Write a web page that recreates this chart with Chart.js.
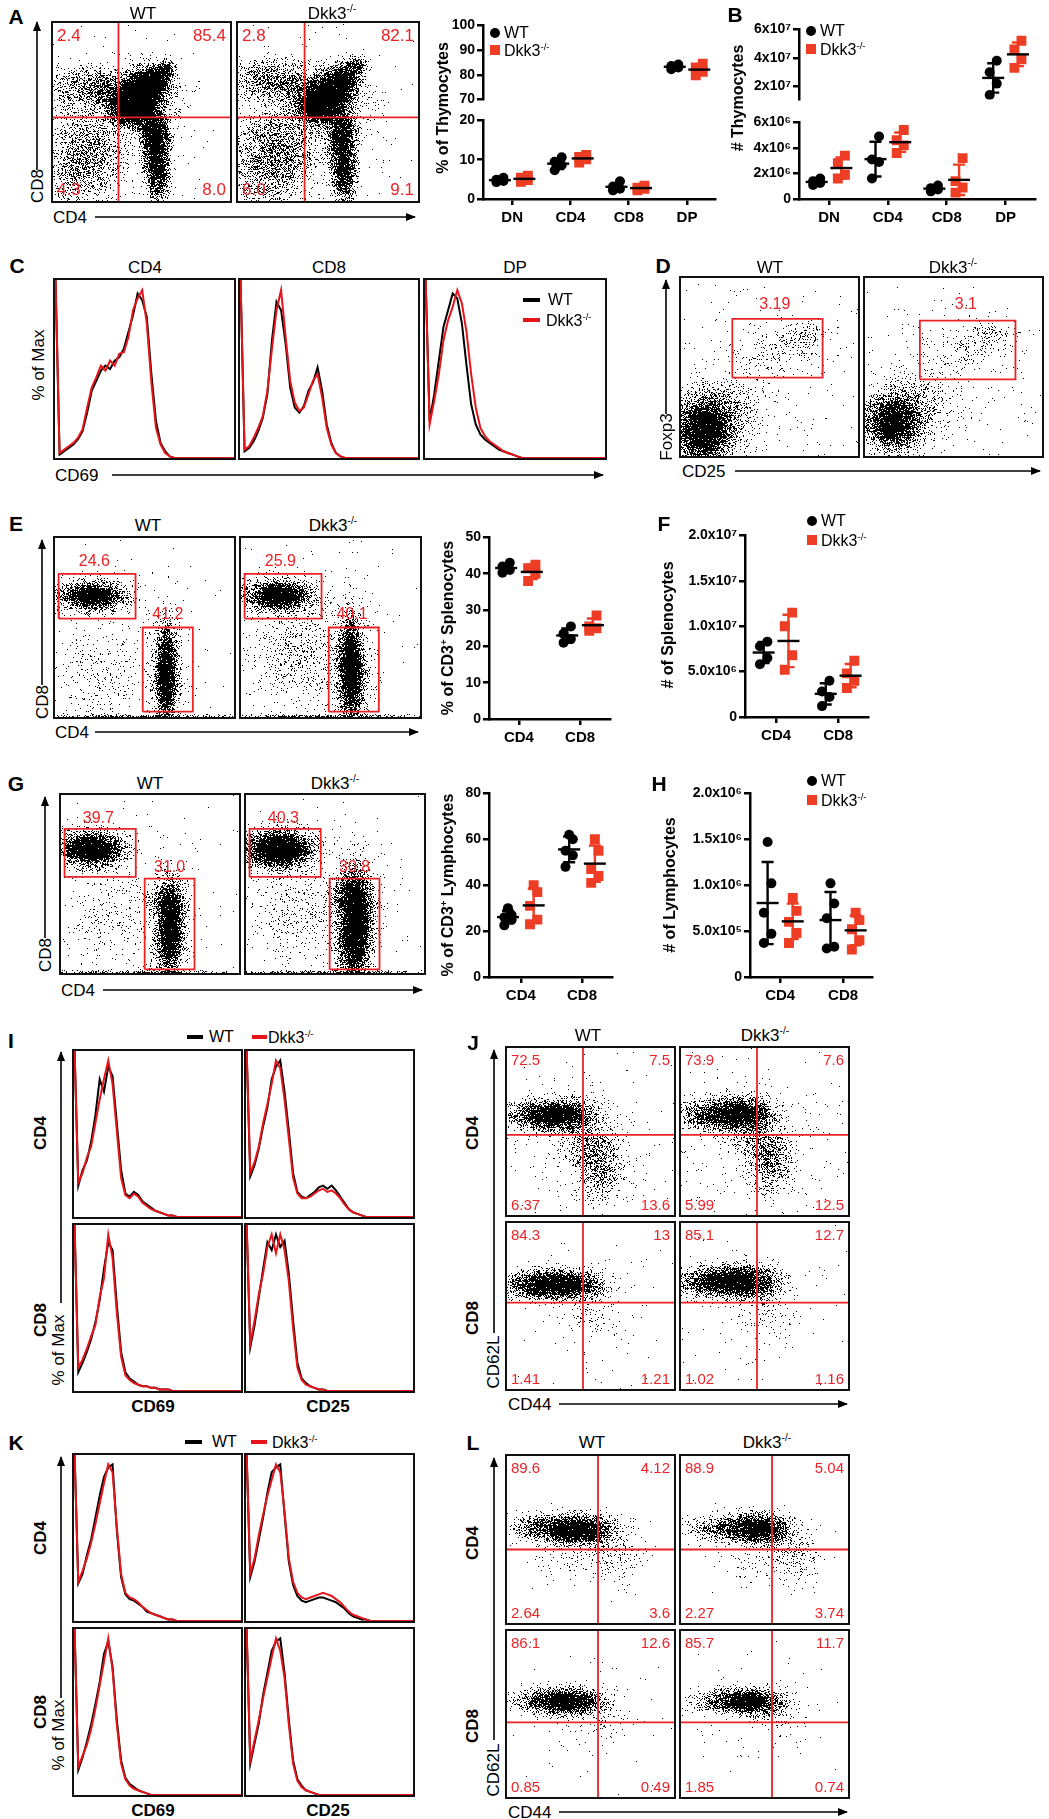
<!DOCTYPE html>
<html>
<head>
<meta charset="utf-8">
<title>Dkk3 thymocyte / T cell figure</title>
<script src="https://cdn.jsdelivr.net/npm/chart.js@4.4.1/dist/chart.umd.min.js"></script>
<style>
  body { margin: 0; background: #fff; }
  #fig { position: relative; width: 1049px; height: 1819px; overflow: hidden; font-family: "Liberation Sans", Arial, sans-serif; }
  #fig canvas { position: absolute; }
  .t { position: absolute; white-space: nowrap; color: #000; font-size: 17px; line-height: 1; }
  .L { font-weight: bold; font-size: 21px; }
  .b { font-weight: bold; }
  .y { font-weight: bold; font-size: 16px; }
  .s { font-size: 16px; }
  .mk { position: absolute; }
  sup { font-size: 60%; vertical-align: 0.6em; line-height: 0; }
  svg { position: absolute; left: 0; top: 0; }
</style>
</head>
<body>
<div id="fig"></div>
<script>
// ---------- data ----------
// A / B: thymocyte subsets, one value per mouse
const thyCats = ['DN', 'CD4', 'CD8', 'DP'];
const thyPctWt = [[4.3, 4.6, 4.9, 5.4], [7.3, 8.6, 9.5, 10.6], [2.2, 2.6, 3.1, 4.5], [82.3, 83.0, 83.6, 84.2]];
const thyPctKo = [[4.4, 4.8, 5.4, 5.9], [9.3, 10.1, 10.7, 11.2], [2.2, 2.6, 2.9, 3.4], [79.8, 81.2, 83.0, 84.5]];
const thyNumWt = [[1.1e6, 1.25e6, 1.4e6, 1.6e6], [1.6e6, 2.9e6, 3.1e6, 4.9e6], [0.6e6, 0.75e6, 0.85e6, 1.05e6], [1.4e7, 2.2e7, 3.0e7, 3.8e7]];
const thyNumKo = [[1.6e6, 1.9e6, 2.8e6, 3.4e6], [3.6e6, 4.2e6, 4.6e6, 5.4e6], [0.5e6, 0.9e6, 1.4e6, 3.2e6], [3.3e7, 3.9e7, 4.6e7, 5.2e7]];

// E-H: spleen and lymph node
const tCats = ['CD4', 'CD8'];
const splPctWt = [[40.3, 41.0, 42.0, 43.0], [21.0, 22.0, 23.5, 25.5]];
const splPctKo = [[38.0, 40.0, 41.5, 42.5], [24.3, 25.0, 25.5, 28.5]];
const splNumWt = [[5.8e6, 6.5e6, 7.8e6, 8.3e6], [1.2e6, 2.2e6, 2.8e6, 4.0e6]];
const splNumKo = [[5.2e6, 6.8e6, 10.0e6, 11.5e6], [3.2e6, 4.0e6, 4.8e6, 6.2e6]];
const lnPctWt = [[22.5, 25.0, 26.0, 27.0, 30.0], [48.0, 53.0, 55.0, 60.0, 62.0]];
const lnPctKo = [[23.0, 25.0, 31.0, 37.0, 40.0], [41.0, 44.0, 47.0, 55.0, 60.0]];
const lnNumWt = [[0.37e6, 0.47e6, 0.70e6, 1.02e6, 1.47e6], [0.31e6, 0.33e6, 0.64e6, 0.80e6, 1.02e6]];
const lnNumKo = [[0.37e6, 0.48e6, 0.60e6, 0.72e6, 0.86e6], [0.30e6, 0.40e6, 0.52e6, 0.62e6, 0.70e6]];

// tick labels
const thyPctTopTicks = [70, 80, 90, 100];
const thyPctLowTicks = [0, 10, 20];
const thyNumTopTicks = [2e7, 4e7, 6e7];
const thyNumTopLabels = ['2x10\u2077', '4x10\u2077', '6x10\u2077'];
const thyNumLowTicks = [0, 2e6, 4e6, 6e6];
const thyNumLowLabels = ['0', '2x10\u2076', '4x10\u2076', '6x10\u2076'];
const splPctTicks = [0, 10, 20, 30, 40, 50];
const splNumTicks = [0, 5e6, 1e7, 1.5e7, 2e7];
const splNumLabels = ['0', '5.0x10\u2076', '1.0x10\u2077', '1.5x10\u2077', '2.0x10\u2077'];
const lnPctTicks = [0, 20, 40, 60, 80];
const lnNumTicks = [0, 5e5, 1e6, 1.5e6, 2e6];
const lnNumLabels = ['0', '5.0x10\u2075', '1.0x10\u2076', '1.5x10\u2076', '2.0x10\u2076'];

// histograms (% of max per bin, 40 bins; bin 0 is the off-scale pile-up at the axis)
const BINS = Array.from({ length: 40 }, (_, i) => i);
const cCd4Wt = [120,2,4,6,8,11,16,27,40,46,52,55,53,58,60,65,75,85,98,94,84,50,22,9,4,1,0,0,0,0,0,0,0,0,0,0,0,0,0,0];
const cCd4Ko = [120,3,5,7,9,12,17,30,42,48,55,52,58,55,62,63,72,88,95,100,80,45,18,8,3,1,0,0,0,0,0,0,0,0,0,0,0,0,0,0];
const cCd8Wt = [120,4,6,10,16,24,38,70,93,88,68,42,30,27,31,40,45,54,40,20,9,3,1,0,0,0,0,0,0,0,0,0,0,0,0,0,0,0,0,0];
const cCd8Ko = [120,5,7,12,18,25,40,65,88,100,72,46,33,28,30,38,46,50,36,18,8,3,1,0,0,0,0,0,0,0,0,0,0,0,0,0,0,0,0,0];
const cDpWt  = [120,22,38,58,78,88,98,95,80,55,32,20,14,11,9,7,5,4,3,2,1,0,0,0,0,0,0,0,0,0,0,0,0,0,0,0,0,0,0,0];
const cDpKo  = [120,20,34,50,70,82,90,100,92,75,50,30,18,13,10,8,6,4,3,2,1,0,0,0,0,0,0,0,0,0,0,0,0,0,0,0,0,0,0,0];
const iCd4Cd69Wt = [120,20,30,36,48,65,88,80,96,90,60,30,15,13,16,14,10,8,6,4,3,2,1,1,0,0,0,0,0,0,0,0,0,0,0,0,0,0,0,0];
const iCd4Cd69Ko = [120,22,28,38,45,60,75,88,100,85,55,25,14,12,15,13,9,7,5,4,3,2,1,1,0,0,0,0,0,0,0,0,0,0,0,0,0,0,0,0];
const iCd4Cd25Wt = [120,26,33,44,58,70,88,96,100,80,55,28,16,13,12,14,16,19,20,18,20,17,13,9,5,3,2,1,0,0,0,0,0,0,0,0,0,0,0,0];
const iCd4Cd25Ko = [120,28,35,45,60,72,85,100,95,75,50,25,15,12,12,13,15,17,18,16,17,15,12,8,5,3,2,1,0,0,0,0,0,0,0,0,0,0,0,0];
const iCd8Cd69Wt = [120,12,18,25,33,44,58,78,95,90,55,25,12,8,6,4,3,3,2,2,1,1,1,0,0,0,0,0,0,0,0,0,0,0,0,0,0,0,0,0];
const iCd8Cd69Ko = [120,15,20,27,35,42,60,72,100,85,50,22,10,7,5,4,3,3,2,2,1,1,1,0,0,0,0,0,0,0,0,0,0,0,0,0,0,0,0,0];
const iCd8Cd25Wt = [120,28,42,60,78,95,90,100,92,96,75,45,18,8,5,3,2,1,1,0,0,0,0,0,0,0,0,0,0,0,0,0,0,0,0,0,0,0,0,0];
const iCd8Cd25Ko = [120,30,45,62,75,92,100,88,100,90,70,40,15,7,4,3,2,1,1,0,0,0,0,0,0,0,0,0,0,0,0,0,0,0,0,0,0,0,0,0];
const kCd4Cd69Wt = [120,24,30,42,52,66,80,92,98,100,58,28,17,14,13,11,9,6,5,4,3,2,1,1,0,0,0,0,0,0,0,0,0,0,0,0,0,0,0,0];
const kCd4Cd69Ko = [120,25,32,40,50,62,75,88,100,95,60,30,18,15,14,12,9,7,5,4,3,2,1,1,0,0,0,0,0,0,0,0,0,0,0,0,0,0,0,0];
const kCd4Cd25Wt = [120,28,38,52,66,82,95,98,100,68,38,23,16,13,12,13,14,15,15,14,13,12,10,8,5,3,2,1,1,0,0,0,0,0,0,0,0,0,0,0];
const kCd4Cd25Ko = [120,30,40,55,68,80,90,100,95,70,40,25,18,15,14,15,16,17,18,17,16,14,12,9,6,4,3,2,1,0,0,0,0,0,0,0,0,0,0,0];
const kCd8Cd69Wt = [120,16,24,34,45,58,72,90,98,82,48,22,11,7,5,3,2,1,0,0,0,0,0,0,0,0,0,0,0,0,0,0,0,0,0,0,0,0,0,0];
const kCd8Cd69Ko = [120,18,25,32,42,55,70,85,100,80,45,20,10,6,4,3,2,1,0,0,0,0,0,0,0,0,0,0,0,0,0,0,0,0,0,0,0,0,0,0];
const kCd8Cd25Wt = [120,20,33,46,64,78,92,98,100,78,48,22,10,6,3,2,1,0,0,0,0,0,0,0,0,0,0,0,0,0,0,0,0,0,0,0,0,0,0,0];
const kCd8Cd25Ko = [120,22,35,48,62,75,88,100,92,75,45,20,9,5,3,2,1,0,0,0,0,0,0,0,0,0,0,0,0,0,0,0,0,0,0,0,0,0,0,0];

// flow plots: population spots [centre x, centre y, spread x, spread y, peak density, tilt deg] on 0-100 axes
const aWtSpots = [[35,40,30,30,0.015], [22,28,10,14,0.45], [12,20,8,14,0.3], [18,64,10,6,0.6], [28,62,6,5,0.5],
  [58,32,3.5,10,3.5], [59,15,3,7,2.2], [56,40,4,5,1.8], [50,58,12,10,0.3],
  [44,56,6,6,7], [52,62,5,5,6], [58,68,4,4,4.5], [64,74,2.5,2.5,2], [46,50,6,3,4]];
const aKoSpots = [[35,40,30,30,0.02], [24,28,10,13,0.65], [12,20,8,14,0.35], [17,68,10,6,0.7], [28,65,6,5,0.55],
  [58,30,3.5,10,3], [59,14,3,7,2], [56,40,4,5,1.5], [50,58,12,10,0.3],
  [45,56,6,6,5], [53,62,5,5,4.5], [59,69,4,4,3.5], [66,76,2.5,2.5,1.6], [46,50,6,3,3]];
const dWtSpots = [[40,40,35,35,0.012], [12,15,7,8,4.5], [20,20,10,10,0.6], [30,30,12,10,0.08], [55,58,14,7,0.1], [68,67,7,4,0.25]];
const dKoSpots = [[40,40,35,35,0.012], [15,19,7,7,3.5], [23,23,10,9,0.5], [32,32,12,10,0.08], [58,60,14,7,0.08], [70,68,7,4,0.18]];
const eWtSpots = [[40,45,30,30,0.01], [20,68,7,3,5], [14,68,10,5,0.5], [30,67,8,5,0.3], [62,25,2.5,12,5], [62,22,5,16,0.4],
  [25,25,12,15,0.08], [45,0.5,30,0.6,0.8]];
const eKoSpots = [[40,45,30,30,0.012], [22,68,7,3.5,5], [14,68,10,5,0.6], [32,67,8,5,0.35], [61,27,3,13,5], [61,24,6,16,0.45],
  [32,35,14,15,0.15], [45,0.5,30,0.6,0.8]];
const gWtSpots = [[40,45,30,30,0.01], [17,70,7,4,5.5], [12,70,10,6,0.5], [26,70,8,5,0.3], [61,25,3,12,5], [60,40,5,5,1.4], [60,22,6,16,0.35],
  [28,30,12,15,0.08], [45,0.5,30,0.6,0.8]];
const gKoSpots = [[40,45,30,30,0.01], [18,70,8,4.5,5.5], [12,70,10,6,0.6], [29,70,8,5,0.35], [61,28,4,14,5], [60,42,6,6,1.4], [61,25,7,17,0.35],
  [30,35,14,15,0.1], [45,0.5,30,0.6,0.8]];
const jCd4WtSpots = [[45,45,30,25,0.025], [30,60,9,4,3.5], [15,60,9,4,1.2], [38,58,9,6,0.8], [55,30,7,10,0.6], [48,42,8,6,0.35]];
const jCd4KoSpots = [[45,45,30,25,0.025], [33,61,9,4.5,3.5], [16,60,9,4,1.2], [40,58,9,6,0.8], [53,32,7,10,0.55], [46,42,8,6,0.35]];
const jCd8WtSpots = [[30,63,10,4,4], [15,63,9,4,1.2], [45,62,8,4.5,0.7], [48,42,8,6,0.1], [45,45,30,25,0.008]];
const jCd8KoSpots = [[32,65,10,4.5,4], [15,65,9,4,1.2], [47,63,8,5,0.7], [50,44,8,7,0.08], [45,45,30,25,0.008]];
const lCd4WtSpots = [[40,56,9,4,4], [22,57,9,4,1.0], [52,55,7,5,0.7], [65,45,8,10,0.15], [40,38,12,8,0.06]];
const lCd4KoSpots = [[45,57,8,4,4], [25,57,10,4,0.9], [55,55,6,5,0.7], [68,42,8,10,0.15], [45,38,12,8,0.06]];
const lCd8WtSpots = [[35,58,9,3.5,4], [20,58,9,3.5,1.0], [48,56,7,4,0.6], [58,45,8,6,0.06], [45,45,30,25,0.006]];
const lCd8KoSpots = [[40,58,8,3.5,4], [25,58,9,3.5,1.0], [52,56,7,4,0.6], [60,45,8,6,0.06], [45,45,30,25,0.006]];

// quadrant / gate frequencies
const aWtQ = ['2.4', '85.4', '4.3', '8.0'], aKoQ = ['2.8', '82.1', '6.0', '9.1'];
const jCd4WtQ = ['72.5', '7.5', '6.37', '13.6'], jCd4KoQ = ['73.9', '7.6', '5.99', '12.5'];
const jCd8WtQ = ['84.3', '13', '1.41', '1.21'], jCd8KoQ = ['85.1', '12.7', '1.02', '1.16'];
const lCd4WtQ = ['89.6', '4.12', '2.64', '3.6'], lCd4KoQ = ['88.9', '5.04', '2.27', '3.74'];
const lCd8WtQ = ['86.1', '12.6', '0.85', '0.49'], lCd8KoQ = ['85.7', '11.7', '1.85', '0.74'];

// ---------- helpers ----------
const RED = '#ec2227', DOTRED = '#ee3d25', HRED = '#e8141b';
const fig = document.getElementById('fig');
Chart.defaults.font.family = '"Liberation Sans", Arial, sans-serif';

function cv(x, y, w, h) {
  const c = document.createElement('canvas');
  c.width = w; c.height = h;
  c.style.left = x + 'px'; c.style.top = y + 'px';
  c.style.width = w + 'px'; c.style.height = h + 'px';
  fig.appendChild(c);
  return c;
}

function T(html, x, y, cls, mode) {
  const d = document.createElement('div');
  d.className = 't ' + (cls || '');
  d.innerHTML = html;
  d.style.left = x + 'px'; d.style.top = y + 'px';
  if (mode === 'l') d.style.transform = 'translate(0,-50%)';
  else if (mode === 'v') d.style.transform = 'translate(-50%,-50%) rotate(-90deg)';
  else d.style.transform = 'translate(-50%,-50%)';
  fig.appendChild(d);
}

function mark(x, y, w, h, color, round) {
  const d = document.createElement('div');
  d.className = 'mk';
  d.style.left = (x - w / 2) + 'px'; d.style.top = (y - h / 2) + 'px';
  d.style.width = w + 'px'; d.style.height = h + 'px';
  d.style.background = color;
  if (round) d.style.borderRadius = '50%';
  fig.appendChild(d);
}

const frame = {
  id: 'frame',
  afterDatasetsDraw(ch) {
    const a = ch.chartArea, c = ch.ctx;
    c.save();
    c.strokeStyle = '#111'; c.lineWidth = 2;
    c.strokeRect(a.left - 1, a.top - 1, a.right - a.left + 2, a.bottom - a.top + 2);
    c.restore();
  }
};

// stipple texture threshold (fixed per pixel)
function grain(x, y) {
  let n = (Math.imul(x, 374761393) + Math.imul(y, 668265263)) | 0;
  n = Math.imul(n ^ (n >>> 13), 1274126177);
  n ^= n >>> 16;
  return (n >>> 0) / 4294967296;
}

// population density from the spots, mapped through the chart scales, drawn as a stipple
function cloud(spots, seed) {
  return {
    id: 'cloud',
    beforeDatasetsDraw(ch) {
      const a = ch.chartArea, xs = ch.scales.x, ys = ch.scales.y;
      const w = Math.round(a.right - a.left), h = Math.round(a.bottom - a.top);
      const kx = Math.abs(xs.getPixelForValue(1) - xs.getPixelForValue(0));
      const ky = Math.abs(ys.getPixelForValue(1) - ys.getPixelForValue(0));
      const sp = spots.map(([cx, cy, sx, sy, d, rot]) => {
        const t = (rot || 0) * Math.PI / 180;
        return { px: xs.getPixelForValue(cx) - a.left, py: ys.getPixelForValue(cy) - a.top,
          sx: sx * kx, sy: sy * ky, d: d, c: Math.cos(t), s: Math.sin(t) };
      });
      const off = document.createElement('canvas');
      off.width = w; off.height = h;
      const g = off.getContext('2d');
      const img = g.createImageData(w, h), px = img.data;
      for (let y = 0; y < h; y++) {
        for (let x = 0; x < w; x++) {
          let sum = 0;
          for (const q of sp) {
            const dx = x - q.px, dy = q.py - y;
            const u = (dx * q.c + dy * q.s) / q.sx, v = (-dx * q.s + dy * q.c) / q.sy;
            const r2 = u * u + v * v;
            if (r2 < 20) sum += q.d * Math.exp(-r2 / 2);
          }
          const p = 1 - Math.exp(-sum);
          const i = (y * w + x) * 4;
          if (grain(x + seed, y + seed * 3) < p) { px[i] = px[i + 1] = px[i + 2] = 0; px[i + 3] = 255; }
        }
      }
      g.putImageData(img, 0, 0);
      ch.ctx.drawImage(off, a.left, a.top);
    }
  };
}

function notes(o) {
  return {
    id: 'notes',
    afterDraw(ch) {
      const a = ch.chartArea, c = ch.ctx;
      c.save();
      c.fillStyle = RED;
      if (o.corners) {
        c.font = o.cfont + 'px "Liberation Sans", Arial, sans-serif';
        const q = o.corners;
        c.textBaseline = 'top';
        c.textAlign = 'left'; c.fillText(q[0], a.left + 4, a.top + 5);
        c.textAlign = 'right'; c.fillText(q[1], a.right - 4, a.top + 5);
        c.textBaseline = 'bottom';
        c.textAlign = 'left'; c.fillText(q[2], a.left + 4, a.bottom - 2);
        c.textAlign = 'right'; c.fillText(q[3], a.right - 4, a.bottom - 2);
      }
      if (o.tags) {
        c.font = '16px "Liberation Sans", Arial, sans-serif';
        c.textAlign = 'center'; c.textBaseline = 'middle';
        o.tags.forEach(([s, x, y]) => c.fillText(s, ch.scales.x.getPixelForValue(x), ch.scales.y.getPixelForValue(y)));
      }
      c.restore();
    }
  };
}

function redLine(pts) {
  return { data: pts, showLine: true, pointRadius: 0, borderColor: RED, borderWidth: 1.8, fill: false };
}

function flow(box, spots, o) {
  const [x1, y1, x2, y2] = box;
  const c = cv(x1 - 2, y1 - 2, x2 - x1 + 4, y2 - y1 + 4);
  const sets = [];
  if (o.quad) {
    const [qx, qy] = o.quad;
    sets.push(redLine([{ x: qx, y: 0 }, { x: qx, y: 100 }]));
    sets.push(redLine([{ x: 0, y: qy }, { x: 100, y: qy }]));
  }
  (o.gates || []).forEach(([gx1, gy1, gx2, gy2]) => {
    sets.push(redLine([{ x: gx1, y: gy1 }, { x: gx2, y: gy1 }, { x: gx2, y: gy2 }, { x: gx1, y: gy2 }, { x: gx1, y: gy1 }]));
  });
  new Chart(c, {
    type: 'scatter',
    data: { datasets: sets },
    options: {
      responsive: false, animation: false, devicePixelRatio: 1,
      layout: { padding: 2 },
      plugins: { legend: { display: false }, tooltip: { enabled: false } },
      scales: {
        x: { type: 'linear', min: 0, max: 100, display: false },
        y: { type: 'linear', min: 0, max: 100, display: false }
      }
    },
    plugins: [cloud(spots, x1 * 7 + y1 * 13), frame, notes(o)]
  });
}

function hist(box, wt, ko) {
  const [x1, y1, x2, y2] = box;
  const c = cv(x1 - 2, y1 - 2, x2 - x1 + 4, y2 - y1 + 4);
  new Chart(c, {
    type: 'line',
    data: {
      labels: BINS,
      datasets: [
        { data: ko, borderColor: HRED, borderWidth: 2, pointRadius: 0, tension: 0, fill: false },
        { data: wt, borderColor: '#000', borderWidth: 2, pointRadius: 0, tension: 0, fill: false }
      ]
    },
    options: {
      responsive: false, animation: false, devicePixelRatio: 1,
      layout: { padding: 2 },
      plugins: { legend: { display: false }, tooltip: { enabled: false } },
      scales: { x: { display: false, offset: false }, y: { display: false, min: 0, max: 106 } }
    },
    plugins: [frame]
  });
}

// mean line + SD whiskers from each group's values
const bars = {
  id: 'bars',
  afterDatasetsDraw(ch) {
    const c = ch.ctx, xs = ch.scales.x, ys = ch.scales.y;
    c.save(); c.lineWidth = 2.4;
    ch.data.datasets.forEach(ds => {
      const v = ds.data.map(p => p.y), n = v.length;
      const m = v.reduce((s, a) => s + a, 0) / n;
      const sd = Math.sqrt(v.reduce((s, a) => s + (a - m) * (a - m), 0) / (n - 1));
      const px = xs.getPixelForValue(ds.mx);
      const y0 = ys.getPixelForValue(m), yt = ys.getPixelForValue(m + sd), yb = ys.getPixelForValue(m - sd);
      c.strokeStyle = ds.barColor;
      c.beginPath();
      c.moveTo(px, yt); c.lineTo(px, yb);
      c.moveTo(px - 6, yt); c.lineTo(px + 6, yt);
      c.moveTo(px - 6, yb); c.lineTo(px + 6, yb);
      c.stroke();
      c.strokeStyle = '#000';
      c.beginPath(); c.moveTo(px - 11, y0); c.lineTo(px + 11, y0); c.stroke();
    });
    c.restore();
  }
};

const JIT = [-1, 1, -1, 1, 0];
function dots(p) {
  const Wy = 78, pt = 10, pr = 10;
  const Hx = p.xAxis ? 32 : 0, pb = p.xAxis ? 0 : 6;
  const c = cv(p.ax - Wy, p.top - pt, Wy + p.right - p.ax + pr, pt + p.bottom - p.top + Hx + pb);
  const sets = [];
  p.cats.forEach((cat, ci) => {
    if (p.only && !p.only.includes(ci)) return;
    [[p.wt, -1], [p.ko, 1]].forEach(([src, side]) => {
      const ko = side > 0;
      sets.push({
        data: src[ci].map((v, i) => ({ x: ci + side * p.off + JIT[i] * 0.06, y: v })),
        mx: ci + side * p.off,
        barColor: ko ? DOTRED : '#000',
        pointStyle: ko ? 'rect' : 'circle',
        pointRadius: ko ? 7 : 5,
        backgroundColor: ko ? DOTRED : '#000',
        borderWidth: 0
      });
    });
  });
  const axisGrid = { display: true, drawOnChartArea: false, drawTicks: true, tickLength: 6, color: '#000', lineWidth: 2.5 };
  const axisBorder = { display: true, color: '#000', width: 2.5 };
  new Chart(c, {
    type: 'scatter',
    data: { datasets: sets },
    options: {
      responsive: false, animation: false,
      layout: { padding: { top: pt, right: pr, bottom: pb, left: 0 } },
      plugins: { legend: { display: false }, tooltip: { enabled: false } },
      scales: {
        x: {
          type: 'linear', min: p.xmin, max: p.xmax, display: !!p.xAxis,
          afterBuildTicks: s => { s.ticks = p.cats.map((_, i) => ({ value: i })); },
          afterFit: s => { s.height = Hx; },
          ticks: { callback: (v, i) => p.cats[i], font: { weight: 'bold', size: 15 }, color: '#000', padding: 4, maxRotation: 0, autoSkip: false },
          grid: axisGrid, border: axisBorder
        },
        y: {
          type: 'linear', min: p.ymin, max: p.ymax,
          afterBuildTicks: s => { s.ticks = p.yt.map(v => ({ value: v })); },
          afterFit: s => { s.width = Wy; },
          ticks: { callback: (v, i) => (p.yl ? p.yl[i] : String(p.yt[i])), font: { weight: 'bold', size: 14 }, color: '#000', padding: 2, autoSkip: false },
          grid: axisGrid, border: axisBorder
        }
      }
    },
    plugins: [bars]
  });
}

// ---------- panel A ----------
flow([53, 23, 230, 201], aWtSpots, { quad: [37, 47], corners: aWtQ, cfont: 17 });
flow([238, 23, 418, 201], aKoSpots, { quad: [37, 47], corners: aKoQ, cfont: 17 });
dots({ ax: 483, top: 25, bottom: 104, right: 715, xmin: -0.5, xmax: 3.48, ymin: 70, ymax: 100,
  cats: thyCats, wt: thyPctWt, ko: thyPctKo, only: [3], off: 0.21, yt: thyPctTopTicks });
dots({ ax: 483, top: 120, bottom: 199, right: 715, xmin: -0.5, xmax: 3.48, ymin: 0, ymax: 20, xAxis: true,
  cats: thyCats, wt: thyPctWt, ko: thyPctKo, only: [0, 1, 2], off: 0.21, yt: thyPctLowTicks });
// ---------- panel B ----------
dots({ ax: 799, top: 29, bottom: 104, right: 1035, xmin: -0.51, xmax: 3.5, ymin: 1.08e7, ymax: 6e7,
  cats: thyCats, wt: thyNumWt, ko: thyNumKo, only: [3], off: 0.21, yt: thyNumTopTicks, yl: thyNumTopLabels });
dots({ ax: 799, top: 122, bottom: 199, right: 1035, xmin: -0.51, xmax: 3.5, ymin: 0, ymax: 6e6, xAxis: true,
  cats: thyCats, wt: thyNumWt, ko: thyNumKo, only: [0, 1, 2], off: 0.21, yt: thyNumLowTicks, yl: thyNumLowLabels });
// ---------- panel C ----------
hist([55, 280, 234, 458], cCd4Wt, cCd4Ko);
hist([240, 280, 418, 458], cCd8Wt, cCd8Ko);
hist([425, 280, 605, 458], cDpWt, cDpKo);
// ---------- panel D ----------
flow([681, 278, 858, 456], dWtSpots, { gates: [[29, 44, 80, 77]], tags: [['3.19', 53, 85]] });
flow([865, 278, 1042, 456], dKoSpots, { gates: [[31, 43, 85, 76]], tags: [['3.1', 57, 85]] });
// ---------- panel E / F ----------
flow([55, 538, 234, 717], eWtSpots, { gates: [[2, 55, 45, 80], [49, 3, 77, 50]], tags: [['24.6', 22, 87], ['41.2', 63, 57]] });
flow([241, 538, 420, 717], eKoSpots, { gates: [[2, 55, 45, 80], [49, 3, 77, 50]], tags: [['25.9', 22, 87], ['40.1', 62, 57]] });
dots({ ax: 489, top: 537, bottom: 719, right: 610, xmin: -0.49, xmax: 1.49, ymin: 0, ymax: 50, xAxis: true,
  cats: tCats, wt: splPctWt, ko: splPctKo, off: 0.21, yt: splPctTicks });
dots({ ax: 745, top: 535, bottom: 717, right: 868, xmin: -0.5, xmax: 1.48, ymin: 0, ymax: 2e7, xAxis: true,
  cats: tCats, wt: splNumWt, ko: splNumKo, off: 0.2, yt: splNumTicks, yl: splNumLabels });
// ---------- panel G / H ----------
flow([61, 795, 239, 973], gWtSpots, { gates: [[2, 54, 42, 81], [47, 2, 75, 53]], tags: [['39.7', 21, 87], ['31.0', 61, 59]] });
flow([246, 795, 424, 973], gKoSpots, { gates: [[2, 54, 42, 81], [47, 2, 75, 53]], tags: [['40.3', 21, 87], ['30.8', 61, 59]] });
dots({ ax: 489, top: 793, bottom: 977, right: 612, xmin: -0.52, xmax: 1.49, ymin: 0, ymax: 80, xAxis: true,
  cats: tCats, wt: lnPctWt, ko: lnPctKo, off: 0.21, yt: lnPctTicks });
dots({ ax: 750, top: 793, bottom: 977, right: 872, xmin: -0.48, xmax: 1.46, ymin: 0, ymax: 2e6, xAxis: true,
  cats: tCats, wt: lnNumWt, ko: lnNumKo, off: 0.2, yt: lnNumTicks, yl: lnNumLabels });
// ---------- panel I ----------
hist([74, 1051, 241, 1217], iCd4Cd69Wt, iCd4Cd69Ko);
hist([246, 1051, 413, 1217], iCd4Cd25Wt, iCd4Cd25Ko);
hist([74, 1225, 241, 1391], iCd8Cd69Wt, iCd8Cd69Ko);
hist([246, 1225, 413, 1391], iCd8Cd25Wt, iCd8Cd25Ko);
// ---------- panel J ----------
flow([507, 1048, 674, 1215], jCd4WtSpots, { quad: [45.5, 48], corners: jCd4WtQ, cfont: 15 });
flow([681, 1048, 848, 1215], jCd4KoSpots, { quad: [45.5, 48], corners: jCd4KoQ, cfont: 15 });
flow([507, 1223, 674, 1389], jCd8WtSpots, { quad: [45.5, 52], corners: jCd8WtQ, cfont: 15 });
flow([681, 1223, 848, 1389], jCd8KoSpots, { quad: [45.5, 52], corners: jCd8KoQ, cfont: 15 });
// ---------- panel K ----------
hist([74, 1455, 241, 1621], kCd4Cd69Wt, kCd4Cd69Ko);
hist([246, 1455, 413, 1621], kCd4Cd25Wt, kCd4Cd25Ko);
hist([74, 1629, 241, 1795], kCd8Cd69Wt, kCd8Cd69Ko);
hist([246, 1629, 413, 1795], kCd8Cd25Wt, kCd8Cd25Ko);
// ---------- panel L ----------
flow([507, 1456, 674, 1623], lCd4WtSpots, { quad: [54.5, 44], corners: lCd4WtQ, cfont: 15 });
flow([681, 1456, 848, 1623], lCd4KoSpots, { quad: [54.5, 44], corners: lCd4KoQ, cfont: 15 });
flow([507, 1631, 674, 1797], lCd8WtSpots, { quad: [54.5, 45], corners: lCd8WtQ, cfont: 15 });
flow([681, 1631, 848, 1797], lCd8KoSpots, { quad: [54.5, 45], corners: lCd8KoQ, cfont: 15 });

// ---------- text ----------
const KO = 'Dkk3<sup>-/-</sup>';
[['A', 16, 16], ['B', 735, 14], ['C', 17, 265], ['D', 663, 265], ['E', 16, 523], ['F', 664, 523],
 ['G', 16, 783], ['H', 659, 783], ['I', 11, 1040], ['J', 473, 1042], ['K', 16, 1442], ['L', 473, 1442]]
  .forEach(([s, x, y]) => T(s, x, y, 'L'));
[['WT', 143, 13], [KO, 332, 13], ['CD4', 145, 267], ['CD8', 329, 267], ['DP', 515, 267],
 ['WT', 770, 267], [KO, 953, 267], ['WT', 148, 525], [KO, 333, 525], ['WT', 150, 783], [KO, 335, 783],
 ['WT', 588, 1035], [KO, 765, 1035], ['WT', 592, 1442], [KO, 767, 1442]]
  .forEach(([s, x, y]) => T(s, x, y, ''));
[['CD4', 53, 217], ['CD69', 55, 475], ['CD25', 682, 471], ['CD4', 55, 732], ['CD4', 61, 990], ['CD44', 508, 1404], ['CD44', 508, 1812]]
  .forEach(([s, x, y]) => T(s, x, y, '', 'l'));
[['CD8', 37, 186], ['% of Max', 38, 365], ['Foxp3', 666, 437], ['CD8', 42, 702], ['CD8', 45, 955],
 ['% of Max', 58, 1350], ['CD62L', 493, 1362], ['% of Max', 58, 1735], ['CD62L', 493, 1770]]
  .forEach(([s, x, y]) => T(s, x, y, '', 'v'));
[['CD4', 40, 1133], ['CD8', 40, 1320], ['CD4', 472, 1133], ['CD8', 472, 1318], ['CD4', 40, 1538], ['CD8', 40, 1712],
 ['CD4', 472, 1543], ['CD8', 472, 1726]]
  .forEach(([s, x, y]) => T(s, x, y, 'b', 'v'));
[['CD69', 153, 1406], ['CD25', 328, 1406], ['CD69', 153, 1810], ['CD25', 328, 1810]]
  .forEach(([s, x, y]) => T(s, x, y, 'b'));
[['% of Thymocytes', 443, 108], ['# Thymocytes', 738, 98], ['% of CD3<sup>+</sup> Splenocytes', 448, 628],
 ['# of Splenocytes', 668, 625], ['% of CD3<sup>+</sup> Lymphocytes', 448, 885], ['# of Lymphocytes', 670, 885]]
  .forEach(([s, x, y]) => T(s, x, y, 'y', 'v'));

// dot-plot legends
[[495, 33, 50], [811, 31, 49], [812, 521, 540], [812, 781, 800]].forEach(([x, yw, yk]) => {
  mark(x, yw, 10, 10, '#000', true);
  mark(x, yk, 10, 10, DOTRED, false);
  T('WT', x + 9, yw, 's', 'l');
  T(KO, x + 9, yk + 1, 's', 'l');
});
// histogram legends
mark(531, 300, 17, 4, '#000'); T('WT', 548, 300, 's', 'l');
mark(531, 320, 17, 4, HRED); T(KO, 546, 321, 's', 'l');
mark(195, 1037, 16, 4, '#000'); T('WT', 209, 1037, 's', 'l');
mark(259, 1037, 15, 4, HRED); T(KO, 268, 1038, 's', 'l');
mark(193, 1442, 17, 4, '#000'); T('WT', 212, 1442, 's', 'l');
mark(259, 1442, 16, 4, HRED); T(KO, 272, 1443, 's', 'l');

// axis arrows
const arrows = [[95, 217, 415, 217], [37, 170, 37, 22], [112, 475, 603, 475], [735, 471, 1040, 471], [666, 414, 666, 280],
  [95, 732, 418, 732], [42, 685, 42, 540], [103, 990, 422, 990], [45, 938, 45, 797], [61, 1303, 61, 1052],
  [494, 1333, 494, 1050], [559, 1404, 847, 1404], [61, 1698, 61, 1457], [494, 1740, 494, 1458], [559, 1812, 847, 1812]];
let svg = '<svg width="1049" height="1819" xmlns="http://www.w3.org/2000/svg"><defs><marker id="ah" markerWidth="10" markerHeight="8" refX="9" refY="4" orient="auto" markerUnits="userSpaceOnUse"><path d="M0,0 L10,4 L0,8 z" fill="#000"/></marker></defs>';
arrows.forEach(([x1, y1, x2, y2]) => {
  svg += '<line x1="' + x1 + '" y1="' + y1 + '" x2="' + x2 + '" y2="' + y2 + '" stroke="#000" stroke-width="1.6" marker-end="url(#ah)"/>';
});
svg += '</svg>';
fig.insertAdjacentHTML('beforeend', svg);
</script>
</body>
</html>
